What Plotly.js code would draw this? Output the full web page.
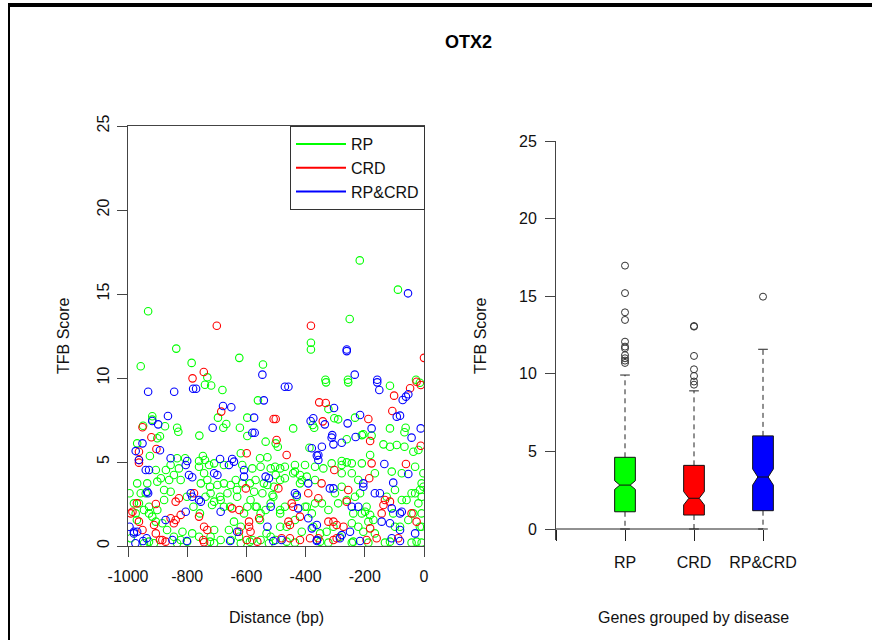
<!DOCTYPE html>
<html>
<head>
<meta charset="utf-8">
<script src="https://cdn.plot.ly/plotly-3.0.1.min.js"></script>
<style>
html,body{margin:0;padding:0;background:#fff;}
#wrap{position:relative;width:872px;height:640px;}
#chart{position:absolute;left:0;top:0;width:872px;height:640px;}
.frm{position:absolute;background:#000;}
</style>
</head>
<body>
<div id="wrap">
<div id="chart"></div>
<div class="frm" style="left:8px;top:3px;width:864px;height:4px;"></div>
<div class="frm" style="left:8px;top:3px;width:2px;height:637px;"></div>
</div>
<script>
// ---------- Scatter data (Distance bp vs TFB score) ----------
const rpX = [-217,-88,-932,-251,-382,-382,-837,-785,-624,-544,-957,-732,-333,-257,-27,-740,-719,-681,-561,-696,
-668,-678,-622,-597,-918,-918,-875,-949,-834,-830,-759,-892,-901,-969,-926,-834,-807,-747,-740,-760,
-619,-554,-529,-597,-535,-501,-331,-256,-115,-323,-442,-371,-376,-303,-290,-233,-115,-62,-66,-261,
-210,-205,-177,-137,-115,-92,-66,-387,-182,-36,-19,-494,-278,-261,-14,
-906,-872,-828,-760,-743,-676,-614,-580,-552,-518,-501,-969,-935,-901,-878,-856,-980,-963,-721,-716,
-687,-664,-631,-676,-653,-586,-597,-574,-546,-518,-507,-529,-929,-906,-884,-816,-783,-709,-687,-625,
-659,-619,-580,-552,-518,-501,-676,-552,-535,-642,
-995,-957,-889,-861,-845,-822,-754,-732,-698,-636,-614,-569,-541,-512,-738,-709,-878,-901,-946,-868,
-760,-721,-653,-608,-569,-991,-912,-834,-709,-619,-524,-946,-800,
-470,-436,-402,-312,-278,-244,-210,-30,-2,-436,-419,-413,-222,-98,-30,-8,-486,-470,-470,-486,
-345,-323,-290,-199,-182,-210,-53,-8,-8,-222,-205,-436,-323,-244,-188,-132,-42,-8,
-486,-368,-340,-278,-244,-166,-109,-75,-42,-75,-19,-233,-278,-301,-368,-402,-379,-436,-486,-413,
-329,-244,-166,-188,-98,-8,-2,-503,-396,-368,
-856,-726,-709,-974,-970,-940,-929,-918,-845,-822,-801,-779,-757,-723,-689,-655,-632,-588,-565,-554,
-532,-509,-486,-464,-442,-419,-430,-396,-374,-351,-306,-284,-261,-239,-216,-194,-171,-126,-104,-81,
-59,-36,-14,-14,-929,-723,-588,-464,-351,-239,-115,-25];
const rpY = [17.0,15.26,13.97,13.51,12.1,11.7,11.75,10.9,11.2,10.8,10.7,10.04,9.9,9.9,9.9,9.6,9.55,9.29,8.67,7.64,
7.26,7.04,7.04,7.64,7.72,7.52,7.13,7.16,7.04,6.80,6.57,6.53,6.41,6.11,5.36,5.22,5.22,5.36,5.12,5.06,
5.52,5.22,5.28,6.55,6.21,6.11,9.74,9.74,9.54,8.15,7.0,7.04,7.2,7.6,7.54,7.64,7.0,7.04,6.77,6.35,
6.6,6.65,6.57,6.05,5.91,6.01,5.91,5.85,5.42,5.61,5.71,5.91,5.06,4.98,9.72,
4.52,4.52,4.62,4.72,4.33,4.82,4.82,4.62,4.72,4.62,4.23,3.73,3.73,3.83,3.33,3.23,2.54,2.54,3.14,2.44,
2.74,3.14,2.93,3.73,3.63,2.74,2.34,3.23,3.14,2.54,3.53,3.63,1.94,1.45,1.35,0.85,0.75,0.95,0.36,0.55,
0.95,1.15,0.36,0.36,0.55,0.36,2.34,1.94,2.14,1.45,
3.14,3.14,4.03,3.93,4.23,3.93,3.73,3.93,3.63,3.93,3.73,3.93,3.73,3.04,2.93,2.64,2.74,2.14,2.14,0.95,
0.55,0.55,0.36,1.94,2.34,0.46,0.16,0.16,0.16,0.16,0.16,0.16,0.26,
4.72,4.82,4.82,4.92,4.82,4.92,4.92,4.72,4.33,4.43,4.23,3.93,3.93,3.33,3.14,3.73,3.93,4.03,2.34,2.14,
2.54,2.14,2.54,2.04,1.85,1.94,1.55,1.94,1.15,1.15,0.85,0.2,0.2,0.2,0.2,0.2,0.2,0.2,
4.62,4.72,4.62,4.33,4.33,4.33,4.43,4.33,3.14,2.74,2.54,2.93,3.53,3.14,2.54,2.34,1.94,1.55,1.15,0.85,
0.85,1.35,0.75,1.45,1.15,2.93,3.53,4.72,4.13,3.93,
4.82,4.82,4.92,1.94,1.55,3.14,2.34,1.75,0.55,0.36,2.93,2.34,1.94,3.53,2.93,2.34,3.33,3.73,2.34,1.55,
0.75,2.93,1.94,1.15,4.33,3.73,2.93,2.34,1.15,0.75,1.15,0.55,2.74,1.94,3.14,2.34,1.55,2.93,1.94,1.15,
2.74,1.94,1.15,3.33,0.26,0.26,0.26,0.26,0.26,0.26,0.26,0.26];

const crdX = [-700,-382,0,-744,-782,-685,-508,-951,-921,-904,
-963,-963,-599,-47,-11,-25,-101,-354,-332,-501,
-342,-188,-107,-182,-11,-464,-498,-963,-602,-906,
-839,-828,-777,-648,-624,-557,-991,-985,-963,-951,
-856,-839,-845,-822,-743,-732,-760,-884,-873,-743,
-625,-591,-563,-586,-591,-177,-61,-303,-346,-256,
-185,-492,-391,-357,-442,-447,-419,-458,-453,-261,
-132,-115,-137,-143,-42,-25,-323,-306,-272,-295,
-182,-481,-453,-385,-357,-295,-160,-87,
-970,-912,-906,-892,-746,-599,-419,-306,-194];
const crdY = [13.11,13.11,11.2,10.36,9.98,8.0,7.56,7.07,6.47,5.77,
5.61,5.12,5.52,9.39,9.58,9.78,8.95,8.55,8.51,7.56,
7.42,7.56,8.04,6.25,5.97,5.42,6.31,4.96,3.43,2.5,
2.64,2.84,3.14,2.24,2.14,1.65,1.94,2.04,1.45,0.95,
1.65,1.55,1.35,1.85,1.15,0.95,1.75,0.36,0.26,0.22,
0.85,1.15,0.26,0.85,1.45,4.92,4.88,4.52,3.73,3.33,
4.03,3.43,3.14,2.84,2.34,2.54,1.75,1.45,1.25,2.64,
2.74,2.64,2.44,1.94,1.94,1.45,1.45,1.45,1.15,1.25,
1.05,0.46,0.46,0.46,0.46,0.46,0.46,0.46,
2.54,1.25,0.75,0.36,0.36,0.36,0.36,0.36,0.36];

const bothX = [-54,-261,-261,-546,-234,-158,-932,-844,-780,-770,
-541,-679,-651,-714,-574,-865,-918,-898,-951,-892,
-974,-963,-856,-800,-689,-648,-580,-572,-470,-458,
-158,-151,-72,-61,-53,-304,-383,-374,-335,-258,
-216,-177,-92,-81,-11,-310,-312,-306,-278,-231,
-42,-379,-345,-362,-357,-940,-929,-805,-794,-783,
-709,-698,-659,-608,-608,-535,-524,-935,-932,-788,
-783,-754,-760,-687,-518,-995,-969,-980,-873,-805,
-937,-850,-631,-529,-357,-134,-53,-391,-318,-306,
-205,-205,-166,-149,-104,-436,-430,-425,-391,-244,
-222,-109,-75,-81,-143,-115,-362,-379,-278,-250,
-481,-362,-284,-109,-81,-30,
-642,-980,-975,-949,-801,-655,-509,-362,-216,-81];
const bothY = [15.04,11.7,11.6,10.2,10.2,9.9,9.18,9.18,9.36,9.36,
8.67,8.33,8.26,7.04,7.64,7.74,7.44,7.24,6.11,5.7,
5.65,5.12,5.22,5.06,5.18,5.18,6.74,6.74,9.48,9.48,
9.74,9.29,8.69,8.89,9.03,8.21,7.44,7.6,7.24,7.3,
7.8,7.0,7.7,7.76,7.0,6.6,6.45,6.05,6.15,6.49,
6.45,5.82,5.91,5.38,5.42,4.52,4.52,4.82,4.23,4.09,
4.33,4.23,4.82,4.52,4.13,4.13,4.03,3.23,3.14,3.14,
2.93,2.64,2.74,2.04,2.34,1.15,0.85,0.75,1.55,2.04,
0.46,0.36,0.85,1.15,5.12,4.88,4.29,3.73,3.43,3.43,
3.73,3.53,3.14,3.14,3.77,3.14,3.04,2.24,1.65,2.34,
2.34,2.24,2.04,1.94,1.45,1.35,1.25,1.05,0.65,0.85,
0.36,0.36,0.46,0.46,0.95,0.75,
5.02,0.85,0.16,0.3,0.3,0.3,0.3,0.3,0.3,0.3];

// ---------- Box plot summary (Genes grouped by disease) ----------
const groups = ['RP', 'CRD', 'RP&CRD'];
const groupPos = [1, 2, 3];
const q1 = [1.11, 0.90, 1.18];
const medians = [2.83, 1.98, 3.35];
const q3 = [4.62, 4.10, 6.00];
const lowWhisker = [0, 0, 0];
const highWhisker = [9.92, 8.90, 11.58];
const notchSpan = [0.28, 0.43, 0.52];
const outliersRP = [16.97, 15.2, 13.96, 13.47, 12.07, 11.75, 11.64, 11.2, 11.0, 10.85, 10.7];
const outliersCRD = [13.04, 13.08, 11.15, 10.29, 9.86, 9.5, 9.3];
const outliersBoth = [14.97];

const xDistTicks = [-1000, -800, -600, -400, -200, 0];
const yScoreTicks = [0, 5, 10, 15, 20, 25];

// ---------- styles ----------
const COLORS = ['#00ff00', '#ff0000', '#0000ff'];
const TXT = '#111';
const AX = '#444';
const FONT = 'Liberation Sans, Arial, Helvetica, sans-serif';
const W = 872, H = 640;
const px = v => v / W;
const py = v => 1 - v / H;

const traces = [];
const series = [[rpX, rpY], [crdX, crdY], [bothX, bothY]];
series.forEach((s, i) => {
  traces.push({
    type: 'scatter', mode: 'markers', x: s[0], y: s[1], xaxis: 'x', yaxis: 'y',
    showlegend: false, hoverinfo: 'skip',
    marker: {symbol: 'circle-open', size: 7.5, color: COLORS[i], line: {width: 1.1, color: COLORS[i]}}
  });
});
// legend entries (lines, as in the original legend)
groups.forEach((g, i) => {
  traces.push({type: 'scatter', mode: 'lines', x: [null], y: [null], xaxis: 'x', yaxis: 'y',
    name: g, line: {color: COLORS[i], width: 2}, showlegend: true});
});

// boxes
groups.forEach((g, i) => {
  traces.push({
    type: 'box', xaxis: 'x2', yaxis: 'y2', x: [groupPos[i]],
    q1: [q1[i]], median: [medians[i]], q3: [q3[i]],
    lowerfence: [q1[i]], upperfence: [q3[i]],
    notched: true, notchspan: [notchSpan[i]], notchwidth: 0.25,
    width: 0.3, whiskerwidth: 0, boxpoints: false,
    fillcolor: COLORS[i], line: {color: '#111', width: 1},
    showlegend: false, hoverinfo: 'skip'
  });
});
// dashed whiskers
const wx = [], wy = [], cx = [], cy = [];
const capHalf = 0.07;
groupPos.forEach((p, i) => {
  wx.push(p, p, null, p, p, null);
  wy.push(q3[i], highWhisker[i], null, q1[i], lowWhisker[i], null);
  cx.push(p - capHalf, p + capHalf, null, p - capHalf, p + capHalf, null);
  cy.push(highWhisker[i], highWhisker[i], null, lowWhisker[i], lowWhisker[i], null);
});
traces.push({type: 'scatter', mode: 'lines', x: wx, y: wy, xaxis: 'x2', yaxis: 'y2',
  line: {color: '#222', width: 1, dash: '5px,4px'}, showlegend: false, hoverinfo: 'skip'});
traces.push({type: 'scatter', mode: 'lines', x: cx, y: cy, xaxis: 'x2', yaxis: 'y2',
  line: {color: '#222', width: 1}, showlegend: false, hoverinfo: 'skip'});
// outliers
const ox = [], oy = [];
[outliersRP, outliersCRD, outliersBoth].forEach((arr, i) => {
  arr.forEach(v => { ox.push(groupPos[i]); oy.push(v); });
});
traces.push({type: 'scatter', mode: 'markers', x: ox, y: oy, xaxis: 'x2', yaxis: 'y2',
  marker: {symbol: 'circle-open', size: 7, color: '#333', line: {width: 1, color: '#333'}},
  showlegend: false, hoverinfo: 'skip', cliponaxis: false});

const tickFont = {family: FONT, size: 16, color: TXT};
const layout = {
  width: W, height: H,
  margin: {l: 0, r: 0, t: 0, b: 0},
  paper_bgcolor: '#fff', plot_bgcolor: '#fff',
  font: {family: FONT, size: 16, color: TXT},
  showlegend: true,
  legend: {
    x: px(425), xanchor: 'right', y: py(126), yanchor: 'top',
    bgcolor: '#fff', bordercolor: '#333', borderwidth: 1,
    font: {family: FONT, size: 16, color: TXT}, itemwidth: 50, tracegroupgap: 0
  },
  xaxis: {
    domain: [px(128), px(424)], range: [-1000, 0], anchor: 'y',
    tickvals: xDistTicks, ticktext: xDistTicks.map(String), ticks: 'outside', ticklen: 10, tickcolor: AX,
    ticklabelstandoff: 6,
    showline: true, mirror: true, linecolor: AX, linewidth: 1,
    showgrid: false, zeroline: false, automargin: false, tickfont: tickFont
  },
  yaxis: {
    domain: [py(546), py(126)], range: [0, 25], anchor: 'x',
    tickvals: yScoreTicks, ticks: 'outside', ticklen: 10, tickcolor: AX, tickangle: -90,
    ticklabelstandoff: 2,
    showline: true, mirror: true, linecolor: AX, linewidth: 1,
    showgrid: false, zeroline: false, automargin: false, tickfont: tickFont
  },
  xaxis2: {
    domain: [px(556), px(832)], range: [0, 4], anchor: 'free', position: py(529),
    tickvals: [0].concat(groupPos), ticktext: [''].concat(groups),
    ticks: 'outside', ticklen: 11, tickcolor: '#222', ticklabelstandoff: 8,
    showline: false, showgrid: false, zeroline: false, automargin: false, tickfont: tickFont
  },
  yaxis2: {
    domain: [py(540), py(141)], range: [-11 / 15.52, 25], anchor: 'x2',
    tickvals: yScoreTicks, ticks: 'outside', ticklen: 10, tickcolor: AX, ticklabelstandoff: 5,
    showline: true, linecolor: AX, linewidth: 1,
    showgrid: false, zeroline: false, automargin: false, tickfont: tickFont
  },
  shapes: [
    {type: 'line', xref: 'x2', yref: 'y2', x0: 0, x1: groupPos[groupPos.length - 1], y0: 0, y1: 0,
     line: {color: '#222', width: 1}, layer: 'above'}
  ],
  annotations: [
    {text: '<b>OTX2</b>', xref: 'paper', yref: 'paper', x: px(468), y: py(42),
     xanchor: 'center', yanchor: 'middle', showarrow: false, font: {family: FONT, size: 18, color: '#000'}},
    {text: 'Distance (bp)', xref: 'paper', yref: 'paper', x: px(276), y: py(617),
     xanchor: 'center', yanchor: 'middle', showarrow: false, font: {family: FONT, size: 16, color: TXT}},
    {text: 'TFB Score', xref: 'paper', yref: 'paper', x: px(63), y: py(336), textangle: -90,
     xanchor: 'center', yanchor: 'middle', showarrow: false, font: {family: FONT, size: 16, color: TXT}},
    {text: 'TFB Score', xref: 'paper', yref: 'paper', x: px(480), y: py(336), textangle: -90,
     xanchor: 'center', yanchor: 'middle', showarrow: false, font: {family: FONT, size: 16, color: TXT}},
    {text: 'Genes grouped by disease', xref: 'paper', yref: 'paper', x: px(693), y: py(617),
     xanchor: 'center', yanchor: 'middle', showarrow: false, font: {family: FONT, size: 16, color: TXT}}
  ]
};

Plotly.newPlot('chart', traces, layout, {displayModeBar: false, staticPlot: true});
</script>
</body>
</html>
